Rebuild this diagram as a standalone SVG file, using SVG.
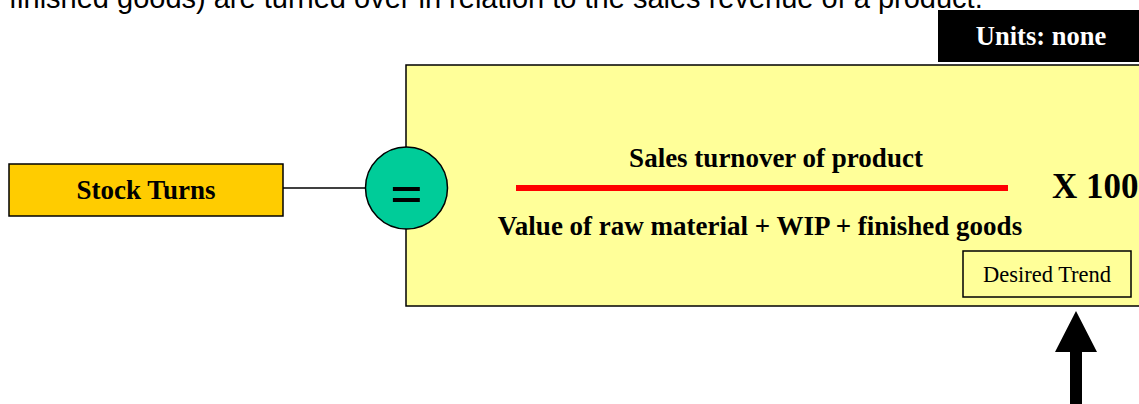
<svg xmlns="http://www.w3.org/2000/svg" width="1139" height="404" viewBox="0 0 1139 404">
  <style>
    .serif { font-family: "Liberation Serif", "Times New Roman", serif; font-weight: bold; }
    .box { stroke: #000; stroke-width: 1.5; }
  </style>
  <rect x="0" y="0" width="1139" height="404" fill="#fff"/>
  <g id="caption">
    <text x="9" y="8" font-family="Liberation Sans, Arial, sans-serif" font-size="29" fill="#000">finished goods) are turned over in relation to the sales revenue of a product.</text>
  </g>
  <g id="formula-box">
    <rect class="box" x="406" y="65" width="745" height="241" fill="#ffff99"/>
    <text class="serif" x="776" y="167" font-size="27" text-anchor="middle">Sales turnover of product</text>
    <line x1="516" y1="188" x2="1008" y2="188" stroke="#ff0000" stroke-width="6"/>
    <text class="serif" x="760" y="235" font-size="27" text-anchor="middle">Value of raw material + WIP + finished goods</text>
    <text class="serif" x="1052" y="198" font-size="35">X 100</text>
  </g>
  <g id="units">
    <rect x="938" y="10" width="205" height="52" fill="#000"/>
    <text class="serif" x="1041" y="45" font-size="26.5" fill="#fff" text-anchor="middle">Units: none</text>
  </g>
  <g id="desired-trend">
    <rect class="box" x="963" y="251" width="168" height="46" fill="#ffff99"/>
    <text x="1047" y="282" font-family="Liberation Serif, Times New Roman, serif" font-size="22.5" text-anchor="middle">Desired Trend</text>
  </g>
  <g id="connectors">
    <line x1="283" y1="188" x2="366" y2="188" stroke="#000" stroke-width="1.5"/>
    <polygon points="1076,311 1097,352 1082,352 1082,404 1070,404 1070,352 1055,352" fill="#000"/>
  </g>
  <g id="stock-turns">
    <rect class="box" x="9" y="164" width="274" height="52" fill="#ffcc00"/>
    <text class="serif" x="146" y="199" font-size="27" text-anchor="middle">Stock Turns</text>
  </g>
  <g id="equals">
    <circle class="box" cx="406.5" cy="188" r="41" fill="#00cc99"/>
    <text class="serif" x="406.5" y="213" font-size="58" text-anchor="middle">=</text>
  </g>
</svg>
